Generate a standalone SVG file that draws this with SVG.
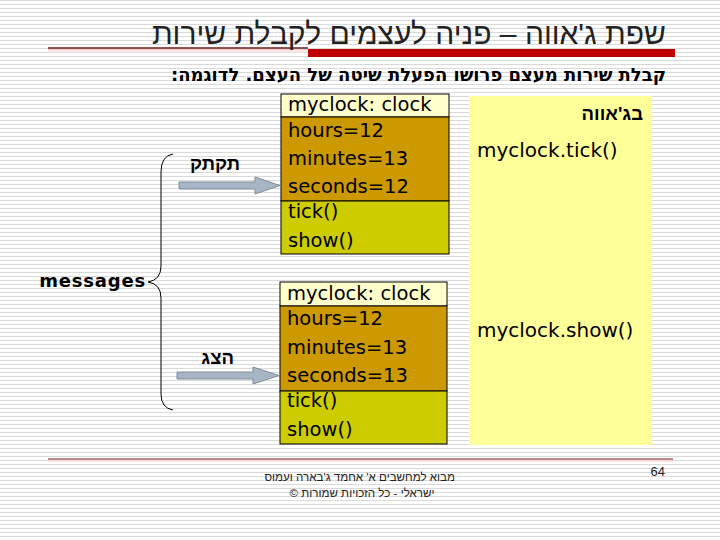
<svg xmlns="http://www.w3.org/2000/svg" width="720" height="540" viewBox="0 0 720 540">
<defs>
<pattern id="stripes" x="0" y="0" width="8" height="4" patternUnits="userSpaceOnUse">
<rect x="0" y="0" width="8" height="4" fill="#ffffff"/>
<rect x="0" y="0" width="8" height="1" fill="#d9d9d9"/>
</pattern>
<linearGradient id="shade" x1="0" y1="0" x2="0" y2="1">
<stop offset="0" stop-color="#f2c9c9"/>
<stop offset="1" stop-color="#ffffff" stop-opacity="0"/>
</linearGradient>
</defs>
<style>
.code{font-family:"DejaVu Sans",sans-serif;font-size:19.5px;fill:#000;}
.pcode{font-family:"DejaVu Sans",sans-serif;font-size:20px;fill:#000;}
.lbl{font-family:"Liberation Sans",sans-serif;font-weight:bold;font-size:18.5px;fill:#000;}
.hdr{fill:#ffffcc;stroke:#000;stroke-width:1;}
.attr{fill:#cc9900;stroke:#000;stroke-width:1;}
.meth{fill:#cccc00;stroke:#000;stroke-width:1;}
.arrow{fill:#a7b6c6;stroke:#7f8c99;stroke-width:1;}
.foot{font-family:"Liberation Sans",sans-serif;font-size:11.6px;fill:#222;}
</style>
<rect x="0" y="0" width="720" height="540" fill="url(#stripes)"/>

<g id="title">
<rect x="48" y="49" width="626" height="6" fill="url(#shade)"/>
<line x1="48" y1="48" x2="308" y2="48" stroke="#6e1c1c" stroke-width="1.5"/>
<rect x="308" y="49" width="367" height="8" fill="#c00000"/>
<text x="666" y="44" direction="rtl" text-anchor="start" font-family="Liberation Sans, sans-serif" font-size="30" fill="#222">שפת ג'אווה – פניה לעצמים לקבלת שירות</text>
<text x="666" y="81" direction="rtl" text-anchor="start" font-family="DejaVu Sans, sans-serif" font-weight="bold" font-size="18" fill="#000">קבלת שירות מעצם פרושו הפעלת שיטה של העצם. לדוגמה:</text>
</g>

<g id="java-panel">
<rect x="469" y="96" width="183" height="349" fill="#ffff99"/>
<text x="643" y="120" direction="rtl" text-anchor="start" class="lbl" font-size="20">בג'אווה</text>
<text x="477" y="157" class="pcode">myclock.tick()</text>
<text x="477" y="337" class="pcode">myclock.show()</text>
</g>

<g id="object1">
<rect x="281" y="94" width="168" height="23" class="hdr"/>
<rect x="281" y="117" width="168" height="84" class="attr"/>
<rect x="281" y="201" width="168" height="53" class="meth"/>
<text x="288" y="111" class="code">myclock: clock</text>
<text x="288" y="137" class="code">hours=12</text>
<text x="288" y="165" class="code">minutes=13</text>
<text x="288" y="193" class="code">seconds=12</text>
<text x="288" y="218" class="code">tick()</text>
<text x="288" y="247" class="code">show()</text>
</g>

<g id="object2">
<rect x="280" y="282" width="167" height="24" class="hdr"/>
<rect x="280" y="306" width="167" height="85" class="attr"/>
<rect x="280" y="391" width="167" height="53" class="meth"/>
<text x="287" y="300" class="code">myclock: clock</text>
<text x="287" y="325" class="code">hours=12</text>
<text x="287" y="354" class="code">minutes=13</text>
<text x="287" y="382" class="code">seconds=13</text>
<text x="287" y="407" class="code">tick()</text>
<text x="287" y="436" class="code">show()</text>
</g>

<g id="messages">
<text x="146" y="287" text-anchor="end" font-family="DejaVu Sans, sans-serif" font-weight="bold" font-size="18" letter-spacing="0.8" fill="#000">messages</text>
</g>

<g id="connectors">
<path d="M173,154 Q161,156 161,172 L161,266 Q161,280 148,282 Q161,284 161,298 L161,394 Q161,408 173,410" fill="none" stroke="#000" stroke-width="1"/>
<path d="M179,182 L255,182 L255,177 L280,185.5 L255,194 L255,189 L179,189 Z" class="arrow"/>
<path d="M177,372 L253,372 L253,367 L279,375.5 L253,384 L253,379 L177,379 Z" class="arrow"/>
<text x="240" y="170" direction="rtl" text-anchor="start" class="lbl">תקתק</text>
<text x="234" y="364" direction="rtl" text-anchor="start" class="lbl">הצג</text>
</g>

<g id="footer">
<rect x="48" y="460" width="626" height="4" fill="url(#shade)"/>
<line x1="48" y1="459" x2="673" y2="459" stroke="#6e1c1c" stroke-width="1.2"/>
<text x="455" y="481" direction="rtl" text-anchor="start" class="foot">מבוא למחשבים א' אחמד ג'בארה ועמוס</text>
<text x="362" y="497" direction="rtl" text-anchor="middle" class="foot">ישראלי - כל הזכויות שמורות ©</text>
<text x="665" y="476" text-anchor="end" font-family="Liberation Sans, sans-serif" font-size="13" fill="#222">64</text>
</g>
</svg>
